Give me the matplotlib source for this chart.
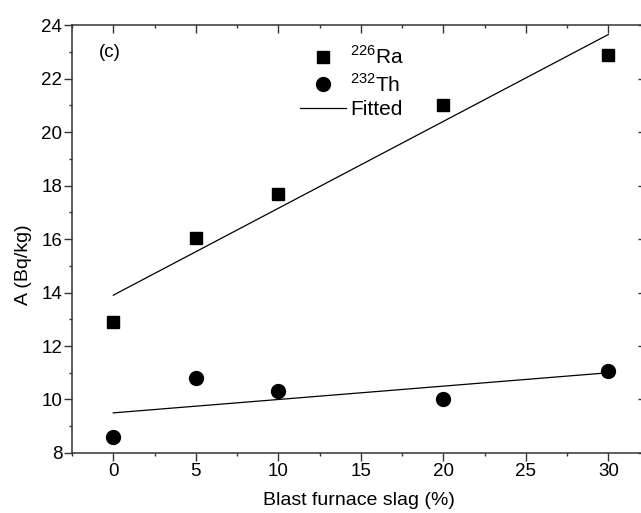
import matplotlib
matplotlib.use("Agg")
import matplotlib.pyplot as plt
from matplotlib.lines import Line2D
from matplotlib.ticker import MultipleLocator

plt.rcParams['font.family'] = ['Liberation Sans', 'DejaVu Sans']
plt.rcParams['mathtext.fontset'] = 'custom'
plt.rcParams['mathtext.rm'] = 'Liberation Sans'

# data
slag = [0, 5, 10, 20, 30]
ra226 = [12.9, 16.05, 17.7, 21.0, 22.9]
th232 = [8.6, 10.8, 10.3, 10.0, 11.05]
fit_x = [0, 30]
ra_fit = [13.9, 23.65]
th_fit = [9.5, 11.0]

fig = plt.figure(figsize=(6.41, 5.13), dpi=100)
ax = fig.add_axes([0.1123, 0.117, 0.896, 0.834])

ax.plot(slag, ra226, 's', color='black', markersize=9)
ax.plot(slag, th232, 'o', color='black', markersize=10)
ax.plot(fit_x, ra_fit, '-', color='black', lw=0.9)
ax.plot(fit_x, th_fit, '-', color='black', lw=0.9)

ax.set_xlim(-2.5, 32.3)
ax.set_ylim(8, 24)
ax.xaxis.set_major_locator(MultipleLocator(5))
ax.xaxis.set_minor_locator(MultipleLocator(2.5))
ax.yaxis.set_major_locator(MultipleLocator(2))
ax.yaxis.set_minor_locator(MultipleLocator(1))

for s in ax.spines.values():
    s.set_linewidth(1.1)
    s.set_color('#333333')

ax.tick_params(axis='both', which='both', color='#333333', width=1.0, labelsize=13.5, pad=1.5)
ax.tick_params(axis='both', which='major', length=5.5)
ax.tick_params(axis='both', which='minor', length=2.5)
ax.tick_params(axis='x', which='both', top=True, direction='out')
ax.tick_params(axis='y', which='major', right=True, direction='out')
ax.tick_params(axis='y', which='minor', right=False, direction='out')
# top and right ticks point inward
for t in ax.xaxis.get_major_ticks() + ax.xaxis.get_minor_ticks():
    t.tick2line.set_marker(3)
for t in ax.yaxis.get_major_ticks():
    t.tick2line.set_marker(0)

ax.set_xlabel('Blast furnace slag (%)', fontsize=14, labelpad=9)
ax.set_ylabel('A (Bq/kg)', fontsize=14)
ax.yaxis.set_label_coords(-0.07, 0.44)

ax.text(0.047, 0.937, '(c)', transform=ax.transAxes, fontsize=13.5, va='center', ha='left')

handles = [
    Line2D([], [], marker='s', color='black', ls='none', markersize=9),
    Line2D([], [], marker='o', color='black', ls='none', markersize=10),
    Line2D([], [], color='black', lw=0.9),
]
labels = [r'$^{226}$Ra', r'$^{232}$Th', 'Fitted']
ax.legend(handles, labels, loc='upper left', bbox_to_anchor=(0.39, 0.962), frameon=False,
          fontsize=15, handlelength=2.2, handletextpad=0.2, labelspacing=0.22,
          borderpad=0.2, borderaxespad=0)

fig.savefig('out.png', dpi=100)
